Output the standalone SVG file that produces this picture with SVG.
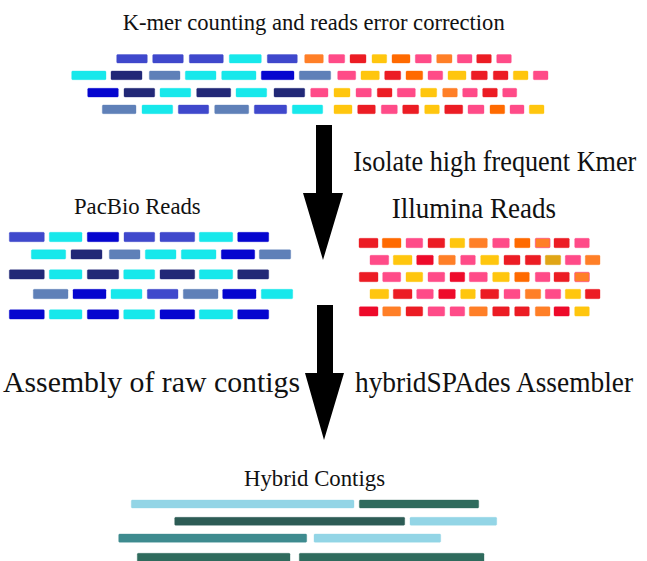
<svg xmlns="http://www.w3.org/2000/svg" width="647" height="561" viewBox="0 0 647 561">
<style>
text{font-family:"Liberation Serif","Times New Roman",serif;fill:#111}
.t1{font-size:23.5px}
.t2{font-size:27px}
rect{stroke-width:1;stroke-opacity:.35;rx:1}
.in{fill:#3F48CC;stroke:#3F48CC}
.cy{fill:#17E8EB;stroke:#17E8EB}
.nv{fill:#222877;stroke:#222877}
.st{fill:#5F80B8;stroke:#5F80B8}
.bl{fill:#0505CF;stroke:#0505CF}
.or{fill:#FF7F27;stroke:#FF7F27}
.do{fill:#FF6A00;stroke:#FF6A00}
.pk{fill:#FF4B88;stroke:#FF4B88}
.rd{fill:#EC1C24;stroke:#EC1C24}
.cr{fill:#EE0A2A;stroke:#EE0A2A}
.ye{fill:#FFC60E;stroke:#FFC60E}
.gd{fill:#E0A516;stroke:#E0A516}
.lb{fill:#93D5E6;stroke:#93D5E6}
.dg{fill:#2F6B5D;stroke:#2F6B5D}
.dg2{fill:#2D5C55;stroke:#2D5C55}
.tl{fill:#3E8B8F;stroke:#3E8B8F}
.arrow{fill:#000}
</style>
<g id="kmer-counting">
<text class="t1" x="122.7" y="30" textLength="382" lengthAdjust="spacingAndGlyphs">K-mer counting and reads error correction</text>
<g>
<rect class="in" x="116.7" y="54.5" width="30.6" height="8.5"/>
<rect class="in" x="152.7" y="54.5" width="30.6" height="8.5"/>
<rect class="in" x="189.3" y="54.5" width="34" height="8.5"/>
<rect class="cy" x="229.3" y="54.5" width="32" height="8.5"/>
<rect class="in" x="267.3" y="54.5" width="30" height="8.5"/>
<rect class="or" x="304.7" y="54.5" width="18.6" height="8.5"/>
<rect class="pk" x="328.7" y="54.5" width="16" height="8.5"/>
<rect class="rd" x="350" y="54.5" width="16" height="8.5"/>
<rect class="ye" x="372" y="54.5" width="14.7" height="8.5"/>
<rect class="do" x="392" y="54.5" width="18" height="8.5"/>
<rect class="pk" x="415.3" y="54.5" width="16" height="8.5"/>
<rect class="or" x="436.7" y="54.5" width="15.3" height="8.5"/>
<rect class="pk" x="457.3" y="54.5" width="14.7" height="8.5"/>
<rect class="rd" x="476.7" y="54.5" width="14.6" height="8.5"/>
<rect class="pk" x="496.7" y="54.5" width="14.6" height="8.5"/>

<rect class="cy" x="71.7" y="71" width="34.3" height="8.7"/>
<rect class="nv" x="111" y="71" width="31" height="8.7"/>
<rect class="st" x="149.3" y="71" width="30.7" height="8.7"/>
<rect class="cy" x="185.3" y="71" width="30.7" height="8.7"/>
<rect class="cy" x="221.7" y="71" width="34.3" height="8.7"/>
<rect class="bl" x="261.3" y="71" width="32.7" height="8.7"/>
<rect class="st" x="299.3" y="71" width="31.4" height="8.7"/>
<rect class="pk" x="337.7" y="71" width="18" height="8.7"/>
<rect class="ye" x="361" y="71" width="18.3" height="8.7"/>
<rect class="rd" x="384.7" y="71" width="16" height="8.7"/>
<rect class="do" x="406" y="71" width="16.7" height="8.7"/>
<rect class="pk" x="428" y="71" width="14.7" height="8.7"/>
<rect class="ye" x="448" y="71" width="18" height="8.7"/>
<rect class="rd" x="471.3" y="71" width="16" height="8.7"/>
<rect class="rd" x="493.3" y="71" width="14.7" height="8.7"/>
<rect class="ye" x="513.3" y="71" width="14.7" height="8.7"/>
<rect class="pk" x="533.3" y="71" width="14.7" height="8.7"/>

<rect class="bl" x="87.7" y="88.3" width="30.6" height="8.7"/>
<rect class="nv" x="124" y="88.3" width="30.7" height="8.7"/>
<rect class="cy" x="160" y="88.3" width="30.7" height="8.7"/>
<rect class="nv" x="196.7" y="88.3" width="34" height="8.7"/>
<rect class="cy" x="236" y="88.3" width="30.7" height="8.7"/>
<rect class="nv" x="274" y="88.3" width="30.7" height="8.7"/>
<rect class="pk" x="310.7" y="88.3" width="17.3" height="8.7"/>
<rect class="ye" x="334" y="88.3" width="16" height="8.7"/>
<rect class="pk" x="356" y="88.3" width="15.3" height="8.7"/>
<rect class="rd" x="377.3" y="88.3" width="14.7" height="8.7"/>
<rect class="pk" x="397.3" y="88.3" width="18" height="8.7"/>
<rect class="ye" x="420.7" y="88.3" width="16" height="8.7"/>
<rect class="or" x="442.7" y="88.3" width="14.6" height="8.7"/>
<rect class="pk" x="462.7" y="88.3" width="14.6" height="8.7"/>
<rect class="rd" x="482.7" y="88.3" width="14.6" height="8.7"/>
<rect class="pk" x="502.7" y="88.3" width="14" height="8.7"/>

<rect class="st" x="102.3" y="105" width="33.7" height="8.7"/>
<rect class="cy" x="142" y="105" width="30.7" height="8.7"/>
<rect class="in" x="178.3" y="105" width="30.4" height="8.7"/>
<rect class="st" x="214.7" y="105" width="34" height="8.7"/>
<rect class="in" x="254.3" y="105" width="32.4" height="8.7"/>
<rect class="cy" x="292.3" y="105" width="30.4" height="8.7"/>
<rect class="ye" x="334" y="105" width="18" height="8.7"/>
<rect class="rd" x="357.7" y="105" width="17.6" height="8.7"/>
<rect class="pk" x="381.3" y="105" width="16" height="8.7"/>
<rect class="rd" x="402.7" y="105" width="16" height="8.7"/>
<rect class="ye" x="424.7" y="105" width="14.6" height="8.7"/>
<rect class="rd" x="444.7" y="105" width="18" height="8.7"/>
<rect class="pk" x="468" y="105" width="16" height="8.7"/>
<rect class="do" x="490" y="105" width="14.7" height="8.7"/>
<rect class="pk" x="510" y="105" width="14" height="8.7"/>
<rect class="ye" x="529.3" y="105" width="14.7" height="8.7"/>
</g>
</g>

<g id="pacbio-reads">
<text class="t1" x="74" y="214" textLength="126.7" lengthAdjust="spacingAndGlyphs">PacBio Reads</text>
<g>
<rect class="in" x="9.3" y="232.3" width="35" height="9.4"/>
<rect class="cy" x="49.3" y="232.3" width="32.7" height="9.4"/>
<rect class="bl" x="87.3" y="232.3" width="31.4" height="9.4"/>
<rect class="in" x="124" y="232.3" width="30.7" height="9.4"/>
<rect class="in" x="160" y="232.3" width="34.7" height="9.4"/>
<rect class="cy" x="199.3" y="232.3" width="33.4" height="9.4"/>
<rect class="bl" x="237.7" y="232.3" width="31" height="9.4"/>

<rect class="cy" x="31.3" y="249.7" width="34.4" height="9.4"/>
<rect class="nv" x="71" y="249.7" width="31" height="9.4"/>
<rect class="st" x="109.3" y="249.7" width="30.7" height="9.4"/>
<rect class="cy" x="145.3" y="249.7" width="30.7" height="9.4"/>
<rect class="cy" x="181.3" y="249.7" width="34.7" height="9.4"/>
<rect class="bl" x="221.3" y="249.7" width="33.4" height="9.4"/>
<rect class="st" x="259.3" y="249.7" width="31.4" height="9.4"/>

<rect class="nv" x="9.3" y="269.7" width="35" height="9.4"/>
<rect class="cy" x="49.3" y="269.7" width="32.7" height="9.4"/>
<rect class="nv" x="87.3" y="269.7" width="31.4" height="9.4"/>
<rect class="cy" x="123.7" y="269.7" width="31" height="9.4"/>
<rect class="nv" x="160" y="269.7" width="34.7" height="9.4"/>
<rect class="cy" x="199.3" y="269.7" width="33.4" height="9.4"/>
<rect class="nv" x="237.7" y="269.7" width="31" height="9.4"/>

<rect class="st" x="33.3" y="289.3" width="34.7" height="9.4"/>
<rect class="bl" x="73" y="289.3" width="33" height="9.4"/>
<rect class="cy" x="111" y="289.3" width="31" height="9.4"/>
<rect class="in" x="147.3" y="289.3" width="30.7" height="9.4"/>
<rect class="st" x="183.3" y="289.3" width="34.7" height="9.4"/>
<rect class="bl" x="222.7" y="289.3" width="33.3" height="9.4"/>
<rect class="cy" x="261.3" y="289.3" width="31.4" height="9.4"/>

<rect class="bl" x="9.3" y="309.7" width="35" height="9.4"/>
<rect class="cy" x="49.3" y="309.7" width="32.7" height="9.4"/>
<rect class="bl" x="87.3" y="309.7" width="31.4" height="9.4"/>
<rect class="cy" x="123.7" y="309.7" width="31" height="9.4"/>
<rect class="bl" x="160" y="309.7" width="34.7" height="9.4"/>
<rect class="cy" x="199.3" y="309.7" width="33.4" height="9.4"/>
<rect class="bl" x="237.7" y="309.7" width="31" height="9.4"/>
</g>
</g>

<g id="illumina-reads">
<text class="t2" transform="translate(391.7,218.3) scale(1,1.1)" textLength="164.3" lengthAdjust="spacingAndGlyphs">Illumina Reads</text>
<g>
<rect class="rd" x="359" y="238.3" width="19" height="9.4"/>
<rect class="do" x="382.3" y="238.3" width="18.7" height="9.4"/>
<rect class="pk" x="406" y="238.3" width="16.7" height="9.4"/>
<rect class="rd" x="428" y="238.3" width="16.7" height="9.4"/>
<rect class="ye" x="450" y="238.3" width="14.7" height="9.4"/>
<rect class="or" x="469.3" y="238.3" width="18" height="9.4"/>
<rect class="pk" x="492.7" y="238.3" width="16.6" height="9.4"/>
<rect class="do" x="514.7" y="238.3" width="15.3" height="9.4"/>
<rect class="or" x="535.3" y="238.3" width="14.7" height="9.4" style="stroke:#FF4B88;stroke-opacity:.7"/>
<rect class="rd" x="554" y="238.3" width="15.3" height="9.4"/>
<rect class="pk" x="574.7" y="238.3" width="14.6" height="9.4"/>

<rect class="pk" x="370" y="255.3" width="18.7" height="9.4"/>
<rect class="ye" x="393.3" y="255.3" width="18.7" height="9.4"/>
<rect class="cr" x="416.7" y="255.3" width="16.6" height="9.4"/>
<rect class="or" x="438.7" y="255.3" width="16.6" height="9.4"/>
<rect class="pk" x="460.7" y="255.3" width="14.6" height="9.4"/>
<rect class="ye" x="480.7" y="255.3" width="18" height="9.4"/>
<rect class="rd" x="504" y="255.3" width="16" height="9.4"/>
<rect class="rd" x="525.3" y="255.3" width="15.4" height="9.4"/>
<rect class="gd" x="545.3" y="255.3" width="15.4" height="9.4"/>
<rect class="pk" x="565.3" y="255.3" width="15.4" height="9.4"/>
<rect class="or" x="585.3" y="255.3" width="14.7" height="9.4"/>

<rect class="rd" x="359.3" y="272.3" width="18.7" height="9.4"/>
<rect class="pk" x="382.7" y="272.3" width="18" height="9.4"/>
<rect class="ye" x="406" y="272.3" width="16.7" height="9.4"/>
<rect class="pk" x="428" y="272.3" width="16.7" height="9.4"/>
<rect class="cr" x="450" y="272.3" width="14.7" height="9.4"/>
<rect class="pk" x="469.3" y="272.3" width="18" height="9.4"/>
<rect class="ye" x="492.7" y="272.3" width="16.6" height="9.4"/>
<rect class="do" x="514.7" y="272.3" width="14.6" height="9.4"/>
<rect class="pk" x="535.3" y="272.3" width="14.7" height="9.4"/>
<rect class="rd" x="554" y="272.3" width="15.3" height="9.4"/>
<rect class="or" x="574.7" y="272.3" width="14.6" height="9.4" style="stroke:#FF4B88;stroke-opacity:.7"/>

<rect class="ye" x="370" y="289.3" width="18.7" height="9.4"/>
<rect class="rd" x="393.3" y="289.3" width="18.7" height="9.4"/>
<rect class="pk" x="416.7" y="289.3" width="16.6" height="9.4"/>
<rect class="cr" x="438.7" y="289.3" width="16.6" height="9.4"/>
<rect class="ye" x="460.7" y="289.3" width="14.6" height="9.4"/>
<rect class="rd" x="480.7" y="289.3" width="18" height="9.4"/>
<rect class="pk" x="504" y="289.3" width="16" height="9.4"/>
<rect class="or" x="525.3" y="289.3" width="15.4" height="9.4"/>
<rect class="pk" x="545.3" y="289.3" width="15.4" height="9.4"/>
<rect class="ye" x="565.3" y="289.3" width="15.4" height="9.4"/>
<rect class="rd" x="585.3" y="289.3" width="14.7" height="9.4"/>

<rect class="cr" x="359.3" y="306.7" width="18.7" height="9.4"/>
<rect class="or" x="382.7" y="306.7" width="18" height="9.4"/>
<rect class="rd" x="406" y="306.7" width="16.7" height="9.4"/>
<rect class="pk" x="428" y="306.7" width="16.7" height="9.4"/>
<rect class="pk" x="450" y="306.7" width="14.7" height="9.4"/>
<rect class="or" x="469.3" y="306.7" width="18" height="9.4"/>
<rect class="rd" x="492.7" y="306.7" width="16.6" height="9.4"/>
<rect class="rd" x="514.7" y="306.7" width="14.6" height="9.4"/>
<rect class="or" x="535.3" y="306.7" width="14.7" height="9.4"/>
<rect class="cr" x="554" y="306.7" width="15.3" height="9.4"/>
<rect class="ye" x="574.7" y="306.7" width="14.6" height="9.4"/>
</g>
</g>

<g id="hybrid-contigs">
<text class="t1" x="244" y="485.5" textLength="141" lengthAdjust="spacingAndGlyphs">Hybrid Contigs</text>
<g>
<rect class="lb" x="131.3" y="500" width="222.7" height="8"/>
<rect class="dg" x="359.3" y="500" width="119.4" height="8"/>
<rect class="dg2" x="174.7" y="517.3" width="230" height="8"/>
<rect class="lb" x="410" y="517.3" width="86.7" height="8"/>
<rect class="tl" x="118.7" y="534" width="188" height="8.3"/>
<rect class="lb" x="314" y="534" width="126.7" height="8.3"/>
<rect class="dg" x="137.3" y="553.3" width="152.7" height="9"/>
<rect class="dg" x="299.3" y="553.3" width="184.7" height="9"/>
</g>
</g>

<g id="connectors">
<g id="arrow-isolate">
<polygon class="arrow" points="316,125 332,125 332,193 343,193 323,260 303,193 316,193"/>
<text class="t2" transform="translate(353.3,171) scale(1,1.1)" textLength="283" lengthAdjust="spacingAndGlyphs">Isolate high frequent Kmer</text>
</g>
<g id="arrow-assembly">
<polygon class="arrow" points="317,305 333,305 333,373 344,373 324,440 305,373 317,373"/>
<text class="t2" transform="translate(3,392) scale(1,1.1)" textLength="297" lengthAdjust="spacingAndGlyphs">Assembly of raw contigs</text>
<text class="t2" transform="translate(355,392) scale(1,1.1)" textLength="278" lengthAdjust="spacingAndGlyphs">hybridSPAdes Assembler</text>
</g>
</g>
</svg>
